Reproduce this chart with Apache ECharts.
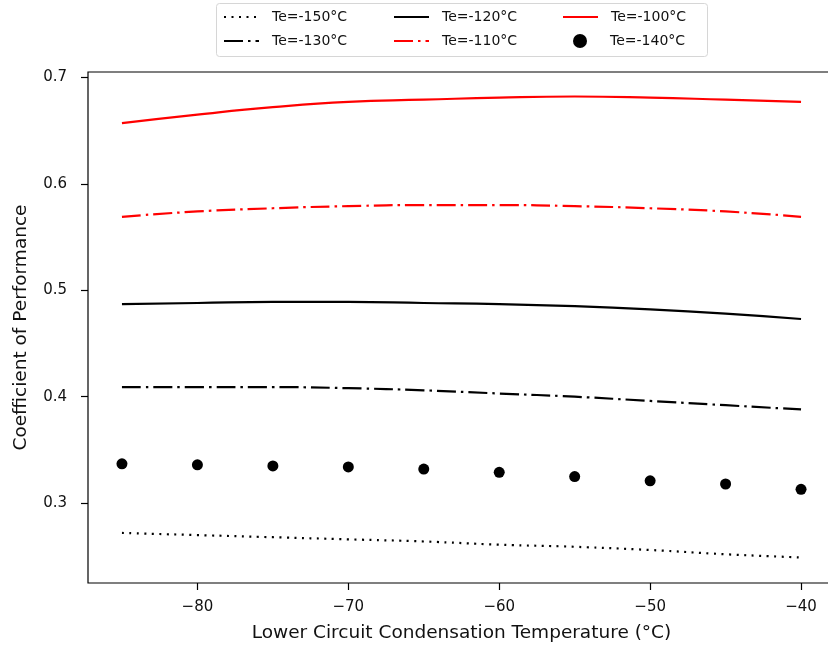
<!DOCTYPE html>
<html>
<head>
<meta charset="utf-8">
<title>COP vs lower circuit condensation temperature</title>
<script src="https://cdn.jsdelivr.net/npm/echarts@6/dist/echarts.min.js"></script>
<style>
  html, body { margin: 0; padding: 0; background: #fff; }
  #chart { width: 828px; height: 648px; }
</style>
</head>
<body>
<div id="chart"></div>
<script>
// condensation temperatures (°C)
const temps = [-85, -80, -75, -70, -65, -60, -55, -50, -45, -40]
// COP per evaporation temperature
const cop150 = [0.272, 0.270, 0.268, 0.266, 0.264, 0.261, 0.259, 0.256, 0.252, 0.249]
const cop140 = [0.337, 0.336, 0.335, 0.334, 0.332, 0.329, 0.325, 0.321, 0.318, 0.313]
const cop130 = [0.409, 0.409, 0.409, 0.408, 0.406, 0.403, 0.400, 0.396, 0.392, 0.388]
const cop120 = [0.487, 0.488, 0.489, 0.489, 0.488, 0.487, 0.485, 0.482, 0.478, 0.473]
const cop110 = [0.569, 0.574, 0.577, 0.579, 0.580, 0.580, 0.579, 0.577, 0.574, 0.569]
const cop100 = [0.657, 0.665, 0.672, 0.677, 0.679, 0.681, 0.682, 0.681, 0.679, 0.677]

const xTicks = [-80, -70, -60, -50, -40]
const yTicks = [0.3, 0.4, 0.5, 0.6, 0.7]

const font = 'DejaVu Sans'
const pairs = arr => temps.map((t, i) => [t, arr[i]])
const minus = v => String(v).replace('-', '\u2212')

const lineSeries = (name, values, color, dash) => ({
  name: name,
  type: 'line',
  data: pairs(values),
  smooth: true,
  showSymbol: false,
  symbol: 'none',
  lineStyle: { color: color, width: 2.2, type: dash },
  itemStyle: { color: color }
})

// legend entries: [name, left, top, isMarker]
const legendPos = [
  ['Te=-150°C', 223, 10, false], ['Te=-120°C', 393, 10, false], ['Te=-100°C', 562, 10, false],
  ['Te=-130°C', 223, 34, false], ['Te=-110°C', 393, 34, false], ['Te=-140°C', 573, 34, true]
]

const chart = echarts.init(document.getElementById('chart'))
chart.setOption({
  backgroundColor: '#fff',
  animation: false,
  textStyle: { fontFamily: font },
  graphic: [{
    type: 'rect',
    shape: { x: 216.5, y: 3.5, width: 491, height: 53, r: 3 },
    style: { fill: '#fff', stroke: '#d6d6d6', lineWidth: 1 },
    z: 0
  }],
  legend: legendPos.map(p => ({
    data: [p[0]],
    left: p[1],
    top: p[2],
    itemWidth: p[3] ? 14 : 35,
    itemHeight: 14,
    padding: 0,
    selectedMode: false,
    itemStyle: p[3] ? { color: '#000', opacity: 1 } : { opacity: 0 },
    textStyle: { fontFamily: font, fontSize: 14, color: '#111', padding: [0, 0, 0, p[3] ? 18 : 8] },
    z: 5
  })),
  grid: {
    left: 88, top: 72, width: 747, bottom: 65,
    outerBoundsMode: 'none',
    show: true, borderColor: '#000', borderWidth: 1.2
  },
  xAxis: {
    type: 'value',
    min: -87.25,
    max: -37.75,
    name: 'Lower Circuit Condensation Temperature (°C)',
    nameLocation: 'middle',
    nameGap: 41,
    nameTextStyle: { fontFamily: font, fontSize: 18.5, color: '#111' },
    axisLine: { show: false },
    axisTick: { show: true, length: 7, customValues: xTicks, lineStyle: { color: '#000', width: 1.2 } },
    axisLabel: { customValues: xTicks, margin: 17, fontFamily: font, fontSize: 15, color: '#111', formatter: v => minus(v) },
    splitLine: { show: false }
  },
  yAxis: {
    type: 'value',
    min: 0.225,
    max: 0.705,
    name: 'Coefficient of Performance',
    nameLocation: 'middle',
    nameGap: 57,
    nameTextStyle: { fontFamily: font, fontSize: 18.5, color: '#111' },
    axisLine: { show: false },
    axisTick: { show: true, length: 7, customValues: yTicks, lineStyle: { color: '#000', width: 1.2 } },
    axisLabel: { customValues: yTicks, margin: 21, fontFamily: font, fontSize: 15, color: '#111', formatter: v => v.toFixed(1) },
    splitLine: { show: false }
  },
  series: [
    lineSeries('Te=-150°C', cop150, '#000', [2, 5.5]),
    lineSeries('Te=-130°C', cop130, '#000', [19, 5, 2.5, 5]),
    lineSeries('Te=-120°C', cop120, '#000', 'solid'),
    lineSeries('Te=-110°C', cop110, '#ff0000', [19, 5, 2.5, 5]),
    lineSeries('Te=-100°C', cop100, '#ff0000', 'solid'),
    {
      name: 'Te=-140°C',
      type: 'scatter',
      data: pairs(cop140),
      symbol: 'circle',
      symbolSize: 11,
      itemStyle: { color: '#000', opacity: 1 }
    }
  ]
})
</script>
</body>
</html>
